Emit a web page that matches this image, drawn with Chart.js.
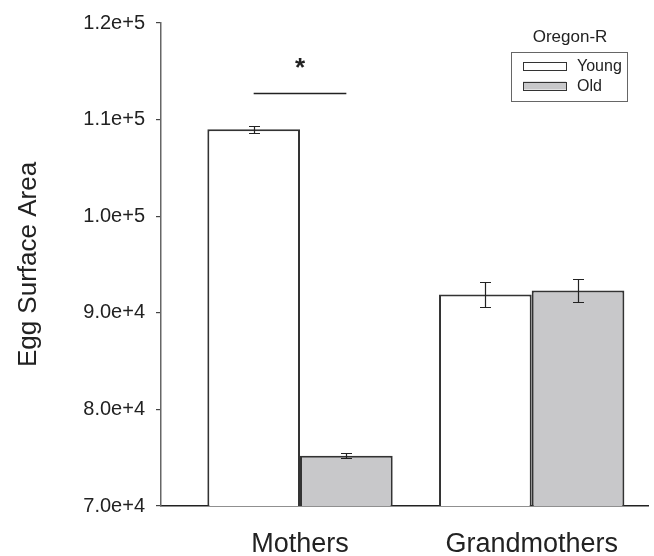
<!DOCTYPE html>
<html>
<head>
<meta charset="utf-8">
<style>
  html, body { margin: 0; padding: 0; background: #fff; }
  #wrap { width: 654px; height: 556px; }
</style>
<script src="https://cdn.jsdelivr.net/npm/chart.js@4.4.1/dist/chart.umd.min.js"></script>
</head>
<body>
<div id="wrap"><canvas id="eggChart" width="654" height="556"></canvas></div>
<script>
// values
const groups = ['Mothers', 'Grandmothers'];
const seriesNames = ['Young', 'Old'];
const youngMeans = [109000, 91900];
const youngErrors = [360, 1250];
const oldMeans = [75200, 92300];
const oldErrors = [260, 1200];
const yTicks = [70000, 80000, 90000, 100000, 110000, 120000];
const legendTitle = 'Oregon-R';
// significance bracket over Mothers
const sigGroup = 0;
const sigLineValue = 112750;
const sigStarValue = 115300;

const FONT = '"Liberation Sans", Arial, sans-serif';
const INK = '#222';

const toPoints = vals => vals.map((v, i) => ({ x: i + 1, y: v }));

const errorBars = {
  id: 'errorBars',
  afterDatasetsDraw(chart) {
    const { ctx, scales: { y } } = chart;
    ctx.save();
    ctx.strokeStyle = INK;
    ctx.lineWidth = 1.2;
    chart.data.datasets.forEach((ds, di) => {
      const meta = chart.getDatasetMeta(di);
      meta.data.forEach((bar, i) => {
        const v = ds.data[i].y, e = ds.errors[i];
        const yTop = Math.round(y.getPixelForValue(v + e)) + 0.5;
        const yBot = Math.round(y.getPixelForValue(v - e)) + 0.5;
        const x = Math.round(bar.x) + 0.5;
        ctx.beginPath();
        ctx.moveTo(x, yTop); ctx.lineTo(x, yBot);
        ctx.moveTo(x - 5.5, yTop); ctx.lineTo(x + 5.5, yTop);
        ctx.moveTo(x - 5.5, yBot); ctx.lineTo(x + 5.5, yBot);
        ctx.stroke();
      });
    });
    ctx.restore();
  }
};

const annotations = {
  id: 'annotations',
  afterDraw(chart) {
    const { ctx, scales: { y }, chartArea } = chart;
    ctx.save();
    // significance line between the two bar centres
    const a = chart.getDatasetMeta(0).data[sigGroup];
    const b = chart.getDatasetMeta(1).data[sigGroup];
    const ly = Math.round(y.getPixelForValue(sigLineValue)) + 0.5;
    ctx.strokeStyle = INK;
    ctx.lineWidth = 1.4;
    ctx.beginPath();
    ctx.moveTo(a.x, ly); ctx.lineTo(b.x, ly);
    ctx.stroke();
    ctx.fillStyle = INK;
    ctx.font = 'bold 26px ' + FONT;
    ctx.textAlign = 'center';
    ctx.textBaseline = 'middle';
    ctx.fillText('*', (a.x + b.x) / 2, y.getPixelForValue(sigStarValue));

    // legend box
    const boxR = chartArea.right - 21, boxL = boxR - 116;
    const boxT = chartArea.top + 28.5;
    ctx.font = '17px ' + FONT;
    ctx.textBaseline = 'middle';
    ctx.fillText(legendTitle, (boxL + boxR) / 2 + 1, chartArea.top + 14);
    ctx.strokeStyle = '#666';
    ctx.lineWidth = 1;
    ctx.strokeRect(Math.round(boxL) + 0.5, Math.round(boxT) + 0.5, 116, 49);
    ctx.font = '16px ' + FONT;
    ctx.textAlign = 'left';
    chart.data.datasets.forEach((ds, i) => {
      const cy = boxT + 14 + i * 20;
      ctx.fillStyle = ds.backgroundColor;
      ctx.fillRect(boxL + 12, cy - 4, 43, 8);
      ctx.strokeStyle = '#333';
      ctx.strokeRect(Math.round(boxL + 12) + 0.5, Math.round(cy - 4) + 0.5, 43, 8);
      ctx.fillStyle = INK;
      ctx.fillText(ds.label, boxL + 66, cy + 1);
    });
    ctx.restore();
  }
};

new Chart(document.getElementById('eggChart').getContext('2d'), {
  type: 'bar',
  data: {
    datasets: [
      {
        label: seriesNames[0],
        data: toPoints(youngMeans),
        errors: youngErrors,
        backgroundColor: '#ffffff',
        borderColor: '#333',
        borderWidth: 2,
        borderSkipped: 'start'
      },
      {
        label: seriesNames[1],
        data: toPoints(oldMeans),
        errors: oldErrors,
        backgroundColor: '#c8c8ca',
        borderColor: '#333',
        borderWidth: 2,
        borderSkipped: 'start'
      }
    ]
  },
  options: {
    responsive: false,
    animation: false,
    events: [],
    layout: { padding: { top: 21, right: 6, left: 0, bottom: 0 } },
    datasets: { bar: { categoryPercentage: 0.8, barPercentage: 1.0 } },
    plugins: { legend: { display: false }, tooltip: { enabled: false } },
    scales: {
      x: {
        type: 'linear',
        min: 0.4,
        max: 2.502,
        offset: false,
        z: 1,
        afterBuildTicks(scale) { scale.ticks = groups.map((g, i) => ({ value: i + 1 })); },
        afterFit(scale) { scale.height = 50; },
        ticks: {
          callback: v => groups[v - 1],
          font: { family: FONT, size: 27 },
          color: INK,
          padding: 14,
          maxRotation: 0,
          autoSkip: false
        },
        grid: { display: false },
        border: { display: true, color: '#222', width: 1.5 }
      },
      y: {
        min: 70000,
        max: 120000,
        afterBuildTicks(scale) { scale.ticks = yTicks.map(v => ({ value: v })); },
        afterFit(scale) { scale.width = 161; },
        ticks: {
          callback: v => v.toExponential(1),
          font: { family: FONT, size: 20 },
          color: INK,
          padding: 11
        },
        grid: { display: true, drawOnChartArea: false, tickLength: 5, color: '#444', lineWidth: 1.2 },
        border: { display: true, color: '#666', width: 1.5 },
        title: {
          display: true,
          text: 'Egg Surface Area',
          font: { family: FONT, size: 26 },
          color: INK,
          padding: { top: 13, bottom: 0 }
        }
      }
    }
  },
  plugins: [errorBars, annotations]
});
</script>
</body>
</html>
